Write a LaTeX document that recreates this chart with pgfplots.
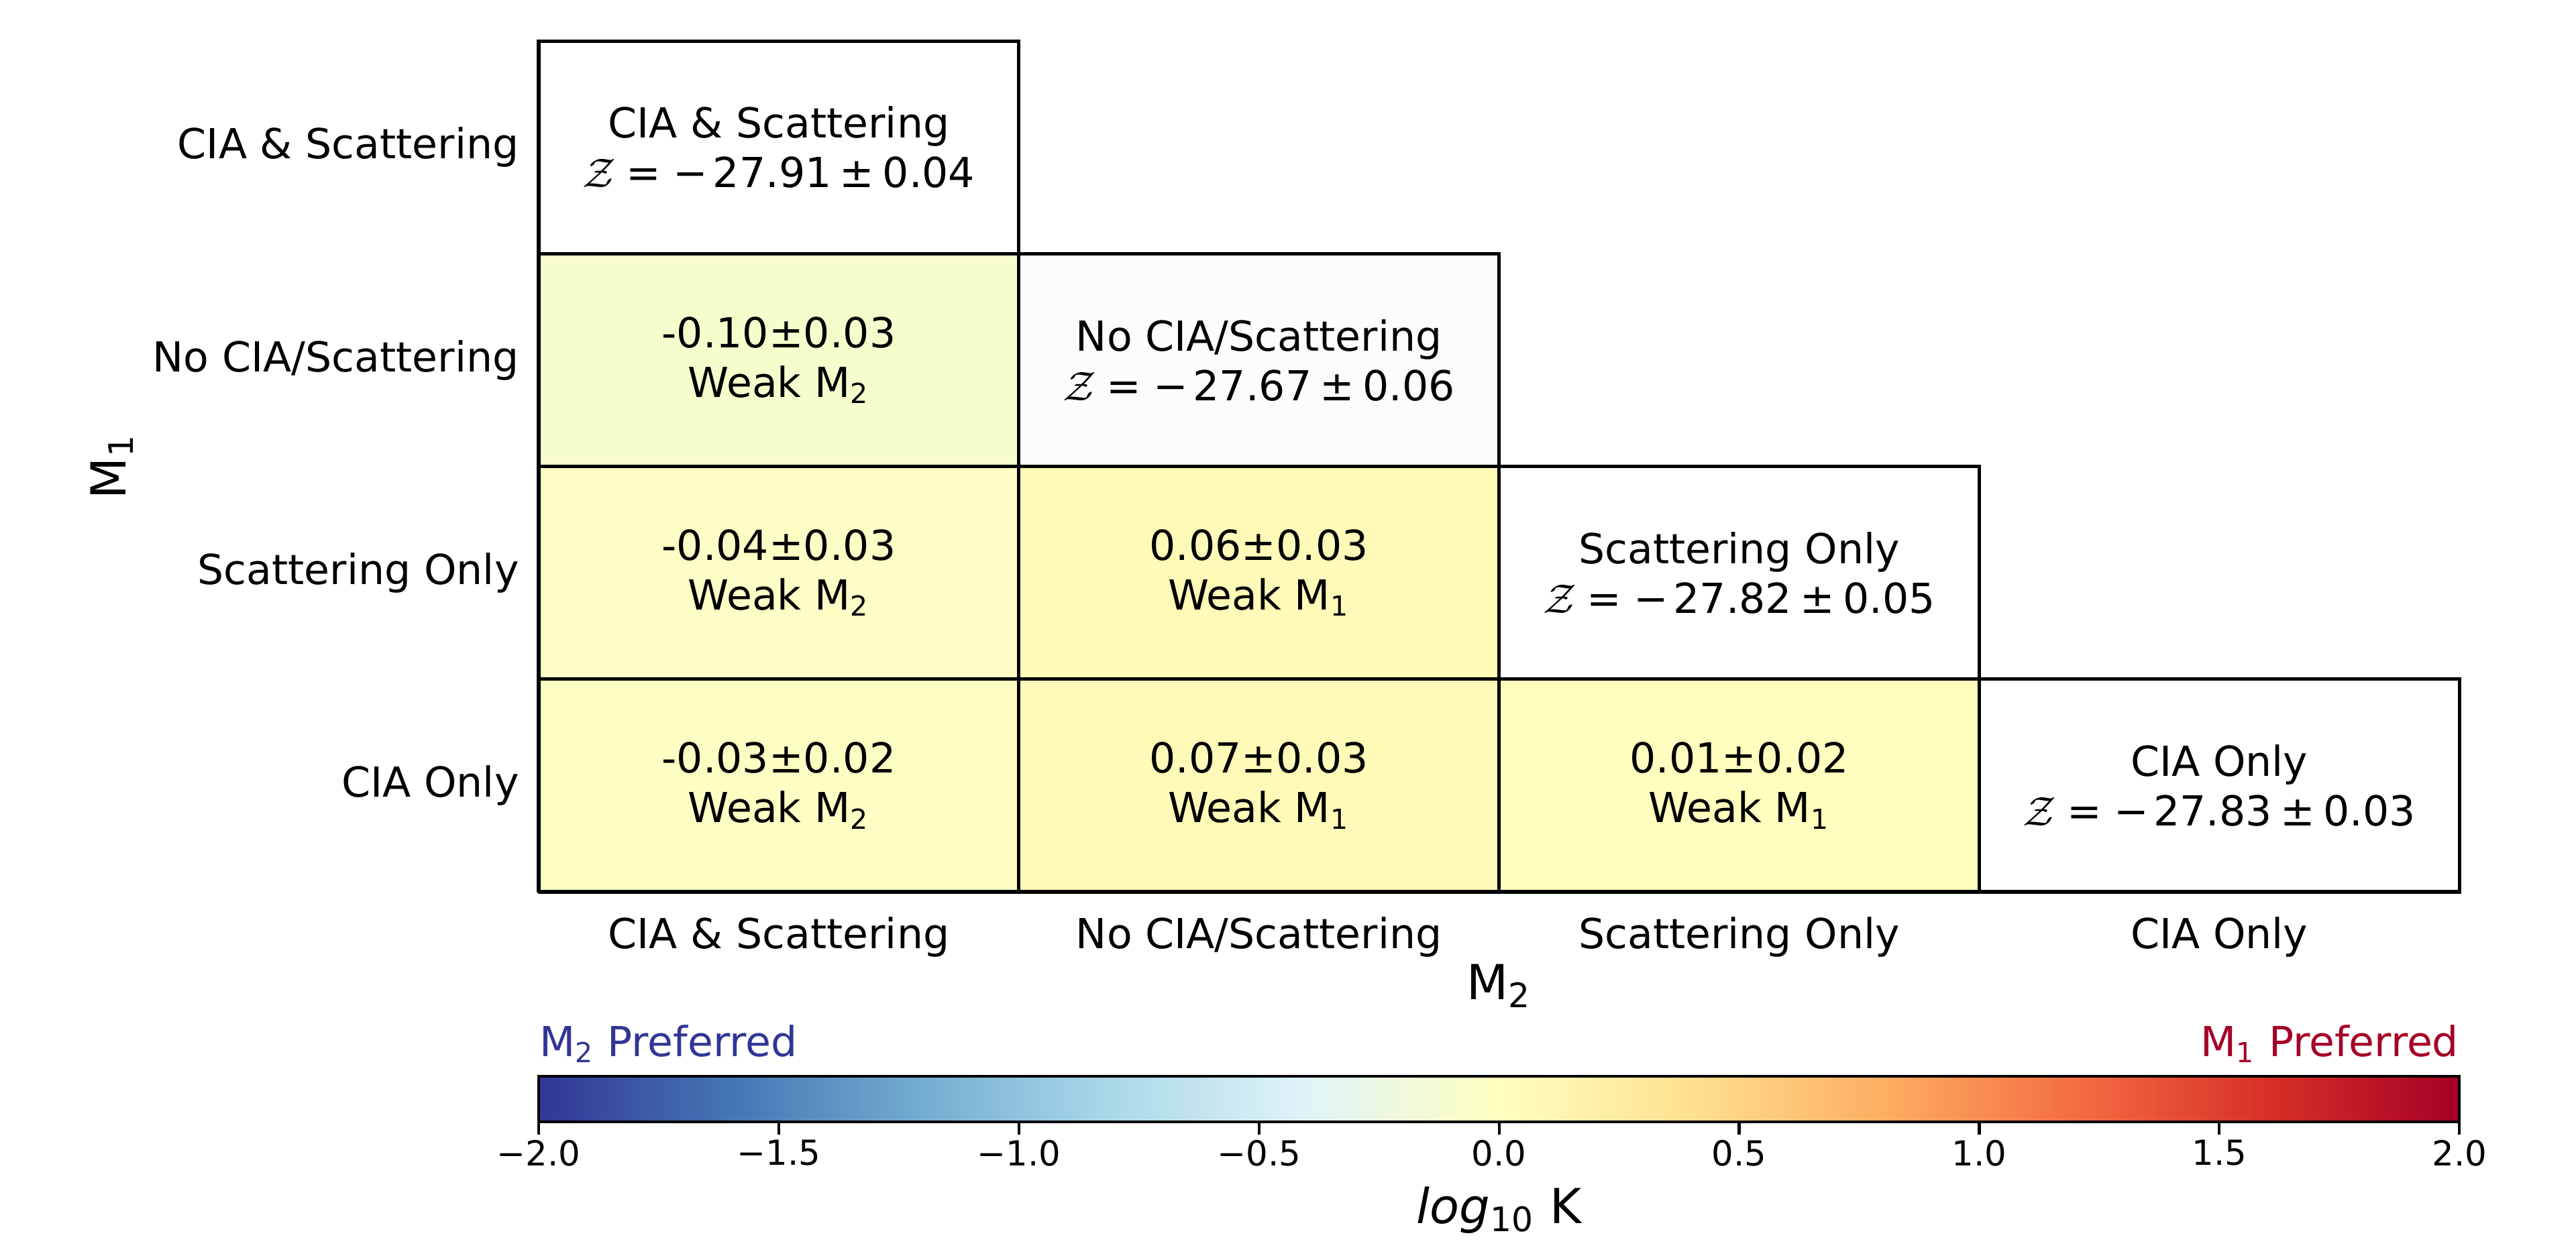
\documentclass[border=0pt]{standalone}
\usepackage{fontspec}
\setmainfont{DejaVu Sans}
\usepackage{pgfplots}
\usepackage{pgfplotstable}
\pgfplotsset{compat=1.18}
\usepgfplotslibrary{patchplots}

% log10 K of the off-diagonal cells (4 corners per cell, value repeated)
\pgfplotstableread{
x y c
0 2 -0.10
1 2 -0.10
1 3 -0.10
0 3 -0.10
0 1 -0.04
1 1 -0.04
1 2 -0.04
0 2 -0.04
0 0 -0.03
1 0 -0.03
1 1 -0.03
0 1 -0.03
1 1 0.06
2 1 0.06
2 2 0.06
1 2 0.06
1 0 0.07
2 0 0.07
2 1 0.07
1 1 0.07
2 0 0.01
3 0 0.01
3 1 0.01
2 1 0.01
}\cells

\definecolor{mtwo}{RGB}{49,54,149}
\definecolor{mone}{RGB}{165,0,38}
\newcommand{\Zval}[2]{$\mathcal{Z}$\hspace{0.25em}=\hspace{0.3em}−\hspace{0.12em}#1\hspace{0.2em}±\hspace{0.2em}#2}

\begin{document}
\begin{tikzpicture}
\path (-156.2pt,-106.6pt) rectangle (590.7pt,258.7pt);
\begin{axis}[
  scale only axis, width=556.9pt, height=246.8pt,
  xmin=0, xmax=4, ymin=0, ymax=4, clip=false,
  axis line style={draw=none}, major tick length=0pt,
  xtick={0.5,1.5,2.5,3.5},
  xticklabels={CIA \& Scattering, No CIA/Scattering, Scattering Only, CIA Only},
  ytick={0.5,1.5,2.5,3.5},
  yticklabels={CIA Only, Scattering Only, No CIA/Scattering, CIA \& Scattering},
  tick label style={font=\fontsize{12}{14.4}\selectfont},
  yticklabel style={xshift=-2.2pt},
  xticklabel style={yshift=-3.8pt},
  xlabel={M\textsubscript{2}}, ylabel={M\textsubscript{1}},
  label style={font=\fontsize{14}{16.8}\selectfont},
  xlabel style={at={(axis description cs:0.5,-0.1102)}, anchor=center},
  ylabel style={at={(axis description cs:-0.2221,0.5)}, anchor=center},
  colormap={rdylbur}{rgb255=(49,54,149) rgb255=(69,117,180) rgb255=(116,173,209) rgb255=(171,217,233) rgb255=(224,243,248) rgb255=(255,255,191) rgb255=(254,224,144) rgb255=(253,174,97) rgb255=(244,109,67) rgb255=(215,48,39) rgb255=(165,0,38)},
  point meta min=-2, point meta max=2,
  colorbar horizontal,
  colorbar style={
    at={(parent axis.south west)}, anchor=north west, yshift=-44.9pt,
    scale only axis, width=556.9pt, height=13.2pt,
    xtick={-2,-1.5,-1,-0.5,0,0.5,1,1.5,2},
    xticklabels={−2.0,−1.5,−1.0,−0.5,0.0,0.5,1.0,1.5,2.0},
    xtick pos=left, xticklabel pos=left, xtick align=outside,
    major tick length=3.7pt,
    xtick style={draw=black, line width=0.8pt},
    axis line style={draw=black, line width=0.8pt},
    tick label style={font=\fontsize{10}{12}\selectfont},
    xticklabel style={yshift=1.9pt},
    xlabel={{\itshape log}\textsubscript{10} K},
    xlabel style={at={(axis description cs:0.5,-1.95)}, anchor=center, font=\fontsize{14}{16.8}\selectfont},
  },
]
\addplot[patch, patch type=rectangle, shader=faceted, faceted color=black, line width=1pt, point meta=explicit]
  table[x=x, y=y, meta=c] {\cells};
\addplot[draw=black, fill=white, line width=1pt] coordinates {(0,3) (1,3) (1,4) (0,4)} -- cycle;
\addplot[draw=black, fill=white!99!black, line width=1pt] coordinates {(1,2) (2,2) (2,3) (1,3)} -- cycle;
\addplot[draw=black, fill=white, line width=1pt] coordinates {(2,1) (3,1) (3,2) (2,2)} -- cycle;
\addplot[draw=black, fill=white, line width=1pt] coordinates {(3,0) (4,0) (4,1) (3,1)} -- cycle;

\begin{scope}[every node/.style={align=center, font=\fontsize{12}{14.4}\selectfont}]
\node at (axis cs:0.5,3.5) {CIA \& Scattering\\\Zval{27.91}{0.04}};
\node at (axis cs:1.5,2.5) {No CIA/Scattering\\\Zval{27.67}{0.06}};
\node at (axis cs:2.5,1.5) {Scattering Only\\\Zval{27.82}{0.05}};
\node at (axis cs:3.5,0.5) {CIA Only\\\Zval{27.83}{0.03}};
\node at (axis cs:0.5,2.5) {-0.10±0.03\\Weak M\textsubscript{2}};
\node at (axis cs:0.5,1.5) {-0.04±0.03\\Weak M\textsubscript{2}};
\node at (axis cs:0.5,0.5) {-0.03±0.02\\Weak M\textsubscript{2}};
\node at (axis cs:1.5,1.5) {0.06±0.03\\Weak M\textsubscript{1}};
\node at (axis cs:1.5,0.5) {0.07±0.03\\Weak M\textsubscript{1}};
\node at (axis cs:2.5,0.5) {0.01±0.02\\Weak M\textsubscript{1}};
\end{scope}
\node[anchor=base west, text=mtwo, inner sep=0pt, font=\fontsize{12}{14.4}\selectfont] at (axis description cs:0,-0.1933) {M\textsubscript{2} Preferred};
\node[anchor=base east, text=mone, inner sep=0pt, font=\fontsize{12}{14.4}\selectfont] at (axis description cs:1,-0.1933) {M\textsubscript{1} Preferred};
\end{axis}
\end{tikzpicture}
\end{document}
